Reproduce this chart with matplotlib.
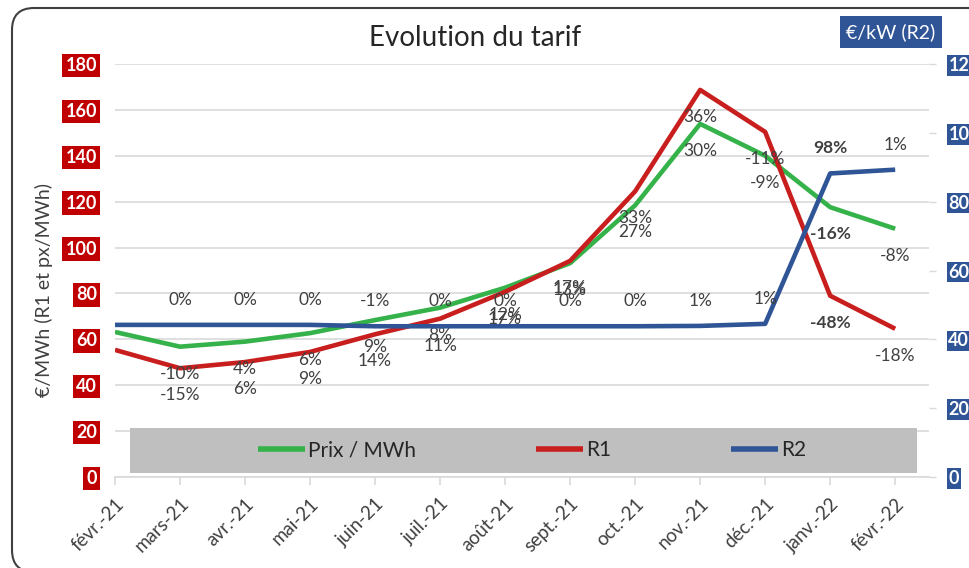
import matplotlib
matplotlib.use('Agg')
import matplotlib.pyplot as plt
from matplotlib.patches import FancyBboxPatch, Rectangle
from matplotlib.transforms import IdentityTransform

plt.rcParams['font.family'] = ['Lato', 'DejaVu Sans']

months = ["févr.-21", "mars-21", "avr.-21", "mai-21", "juin-21", "juil.-21", "août-21",
          "sept.-21", "oct.-21", "nov.-21", "déc.-21", "janv.-22", "févr.-22"]
prix = [63.2, 56.8, 59.0, 62.7, 68.4, 73.8, 82.5, 93.2, 118.4, 153.9, 140.0, 117.6, 108.2]
r1 = [55.4, 47.4, 50.1, 54.5, 62.2, 69.0, 80.7, 94.2, 124.5, 168.7, 150.4, 79.0, 64.6]
r2 = [44.2, 44.2, 44.2, 44.2, 43.8, 43.8, 43.8, 43.8, 43.8, 43.9, 44.5, 88.2, 89.3]

prix_pct = ["", "-10%", "4%", "6%", "9%", "8%", "12%", "13%", "27%", "30%", "-9%", "-16%", "-8%"]
r1_pct = ["", "-15%", "6%", "9%", "14%", "11%", "17%", "17%", "33%", "36%", "-11%", "-48%", "-18%"]
r2_pct = ["", "0%", "0%", "0%", "-1%", "0%", "0%", "0%", "0%", "1%", "1%", "98%", "1%"]
bold_idx = [11]

left_ticks = [0, 20, 40, 60, 80, 100, 120, 140, 160, 180]
right_ticks = [0, 20, 40, 60, 80, 100, 120]

GREEN = '#35B24A'
RED = '#C81E1E'
BLUE = '#2F5597'
TXT = '#404040'

fig = plt.figure(figsize=(9.69, 5.68), dpi=100)
ax = fig.add_axes([115/969, 1-477/568, 814/969, 413/568])
ax2 = ax.twinx()

x = list(range(len(months)))
ax.plot(x, prix, color=GREEN, lw=3.3, solid_capstyle='butt', zorder=3, label='Prix / MWh')
ax.plot(x, r1, color=RED, lw=3.3, solid_capstyle='butt', zorder=3, label='R1')
ax2.plot(x, r2, color=BLUE, lw=3.3, solid_capstyle='butt', zorder=3, label='R2')

ax.set_xlim(0, 12.52)
ax.set_ylim(0, 180)
ax2.set_ylim(0, 120)

ax.set_yticks(left_ticks)
ax.set_yticklabels([str(v) for v in left_ticks])
ax2.set_yticks(right_ticks)
ax2.set_yticklabels([str(v) for v in right_ticks])

ax.grid(axis='y', color='#D9D9D9', lw=1.2)
ax.set_axisbelow(True)
for a in (ax, ax2):
    for s in a.spines.values():
        s.set_visible(False)
ax.spines['bottom'].set_visible(True)
ax.spines['bottom'].set_color('#D9D9D9')
ax.spines['bottom'].set_linewidth(1.2)

ax.tick_params(axis='y', length=0, pad=13, labelsize=13, labelcolor='white')
for t in ax.get_yticklabels():
    t.set_fontweight('bold')
    t.set_bbox(dict(boxstyle='square,pad=0.18', fc='#C00000', ec='none'))
ax2.tick_params(axis='y', length=5, width=1, color='#D9D9D9', pad=9, labelsize=13, labelcolor='white')
for t in ax2.get_yticklabels():
    t.set_fontweight('bold')
    t.set_bbox(dict(boxstyle='square,pad=0.1', fc=BLUE, ec='none'))

ax.set_xticks(x)
ax.set_xticklabels(months, rotation=45, ha='right', va='top', rotation_mode='anchor')
ax.tick_params(axis='x', length=6, width=1.2, color='#D9D9D9', pad=7, labelsize=13.5, labelcolor=TXT)

ax.set_ylabel('€/MWh (R1 et px/MWh)', fontsize=14, color=TXT)
ax.yaxis.label.set_va('center')
ax.yaxis.set_label_coords((44-115)/814, (477-290)/413)

# data labels
for i in x:
    w = 'bold' if i in bold_idx else 'normal'
    if prix_pct[i]:
        ax.annotate(prix_pct[i], (i, prix[i]), xytext=(0, -19.5), textcoords='offset points',
                    ha='center', va='center', fontsize=12.5, color=TXT, fontweight=w, zorder=5)
    if r1_pct[i]:
        ax.annotate(r1_pct[i], (i, r1[i]), xytext=(0, -19.5), textcoords='offset points',
                    ha='center', va='center', fontsize=12.5, color=TXT, fontweight=w, zorder=5)
    if r2_pct[i]:
        ax2.annotate(r2_pct[i], (i, r2[i]), xytext=(0, 18), textcoords='offset points',
                     ha='center', va='center', fontsize=12.5, color=TXT, fontweight=w, zorder=5)

# legend band
band = Rectangle((15/814, 4/413), 787/814, 45/413, transform=ax.transAxes,
                 fc='#BFBFBF', ec='none', zorder=1)
ax.add_patch(band)
h1, l1 = ax.get_legend_handles_labels()
h2, l2 = ax2.get_legend_handles_labels()
leg = ax2.legend(h1 + h2, l1 + l2, loc='center', bbox_to_anchor=(0.5 + 10/814, 26.5/413),
                 ncol=3, frameon=False, fontsize=15, handlelength=2.25, handletextpad=0.15,
                 columnspacing=5.75, labelcolor='#262626')
for lh in leg.get_lines():
    lh.set_linewidth(4)

# title
fig.text(475/969, 1-38/568, 'Evolution du tarif', ha='center', va='center', fontsize=20, color='#262626')
# right axis title
fig.text(891/969, 1-32/568, '€/kW (R2)', ha='center', va='center', fontsize=14, color='white',
         bbox=dict(boxstyle='square,pad=0.35', fc=BLUE, ec='none'))

# rounded frame
frame = FancyBboxPatch((12, -4), 1000, 564, boxstyle='round,pad=0,rounding_size=22',
                       transform=IdentityTransform(), fill=False, ec='#404040', lw=1.5)
fig.add_artist(frame)

fig.savefig('out.png', dpi=100)
